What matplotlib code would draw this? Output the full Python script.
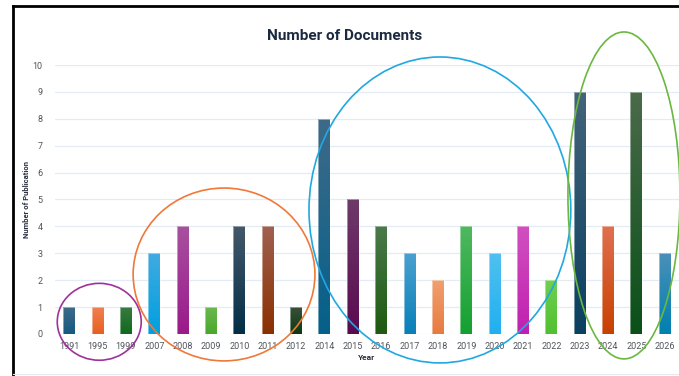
import numpy as np
import matplotlib
matplotlib.use("Agg")
import matplotlib.pyplot as plt
from matplotlib.patches import Ellipse
from matplotlib.lines import Line2D
from matplotlib.colors import to_rgb

years = ['1991', '1995', '1999', '2007', '2008', '2009', '2010', '2011', '2012', '2014', '2015',
         '2016', '2017', '2018', '2019', '2020', '2021', '2022', '2023', '2024', '2025', '2026']
counts = [1, 1, 1, 3, 4, 1, 4, 4, 1, 8, 5, 4, 3, 2, 4, 3, 4, 2, 9, 4, 9, 3]

# gradient colours per bar: (top, bottom)
top_colors = ['#3e6a88', '#f08050', '#3a7a40', '#40aae0', '#a850a0', '#6ab850', '#44586a',
              '#a06050', '#3a5038', '#3e6a88', '#6e3a6a', '#4a7a4a', '#4aa0d0', '#f0a070',
              '#50b860', '#50c0f0', '#d050c0', '#70d050', '#44647a', '#e07050', '#4a6a4a',
              '#4a90b8']
bottom_colors = ['#155a80', '#e86020', '#0e6a1e', '#00a0e0', '#9a1a8a', '#4aa82a', '#032e48',
                 '#8a3000', '#0a3a10', '#05608a', '#5a0a50', '#1e5a10', '#0a80b8', '#e87a40',
                 '#14a030', '#20b0f0', '#c020b0', '#50c030', '#0a4060', '#c84000', '#0a5018',
                 '#0080b0']

# highlighted groups: (center x, center y, width, height, colour) in data units
groups = [
    (1.06, 0.45, 2.96, 2.86, '#a0309a'),
    (5.46, 2.21, 6.41, 6.43, '#f07838'),
    (13.07, 4.61, 9.23, 11.38, '#20a8e0'),
    (19.56, 5.15, 3.95, 12.16, '#6ab840'),
]

plt.rcParams['font.family'] = ['Roboto', 'DejaVu Sans']

fig = plt.figure(figsize=(6.79, 3.76), dpi=100)
ax = fig.add_axes([0.081, 0.112, 0.919, 0.715])

x = np.arange(len(years))
bars = ax.bar(x, counts, width=0.42, color='none', edgecolor=(1, 1, 1, 0.5),
              linewidth=0.6, zorder=3)

for b, ct, cb in zip(bars, top_colors, bottom_colors):
    x0, y0 = b.get_x(), b.get_y()
    w, h = b.get_width(), b.get_height()
    t = np.linspace(0, 1, 64)[:, None]
    grad = (1 - t) * np.array(to_rgb(cb)) + t * np.array(to_rgb(ct))
    im = ax.imshow(grad[:, None, :], extent=[x0, x0 + w, y0, y0 + h], origin='lower',
                   aspect='auto', zorder=2, interpolation='bilinear')
    im.set_clip_path(b)

for cx, cy, w, h, c in groups:
    ax.add_patch(Ellipse((cx, cy), w, h, fill=False, edgecolor=c, linewidth=1.2,
                         clip_on=False, zorder=4))

ax.set_xlim(-0.5, 21.5)
ax.set_ylim(0, 10)
ax.set_yticks(range(0, 11))
ax.set_xticks(x)
ax.set_xticklabels(years)
ax.tick_params(axis='both', length=0, labelsize=6.5, colors='#50555c')
ax.tick_params(axis='y', pad=9)
ax.tick_params(axis='x', pad=6)
ax.grid(axis='y', color='#e3ecf6', linewidth=0.9, zorder=0)
ax.set_axisbelow(True)
for s in ax.spines.values():
    s.set_visible(False)

ax.set_ylabel('Number of Publication', fontsize=5.5, fontweight='bold', color='#2a3040')
ax.yaxis.set_label_coords(-0.04, 0.5)
ax.set_xlabel('Year', fontsize=6, fontweight='bold', color='#2a3040', labelpad=2)
fig.text(0.508, 0.905, 'Number of Documents', ha='center', va='center', fontsize=11,
         fontweight='bold', color='#1c2a40')

# screenshot frame
fig.add_artist(Line2D([13 / 679, 13 / 679], [0, 1 - 6 / 376], color='black', linewidth=2))
fig.add_artist(Line2D([13 / 679, 1], [1 - 6 / 376, 1 - 6 / 376], color='black', linewidth=2))
fig.add_artist(Line2D([13 / 679, 1], [2 / 376, 2 / 376], color='#e6e9ee', linewidth=0.8))

fig.savefig('out.png', dpi=100)
